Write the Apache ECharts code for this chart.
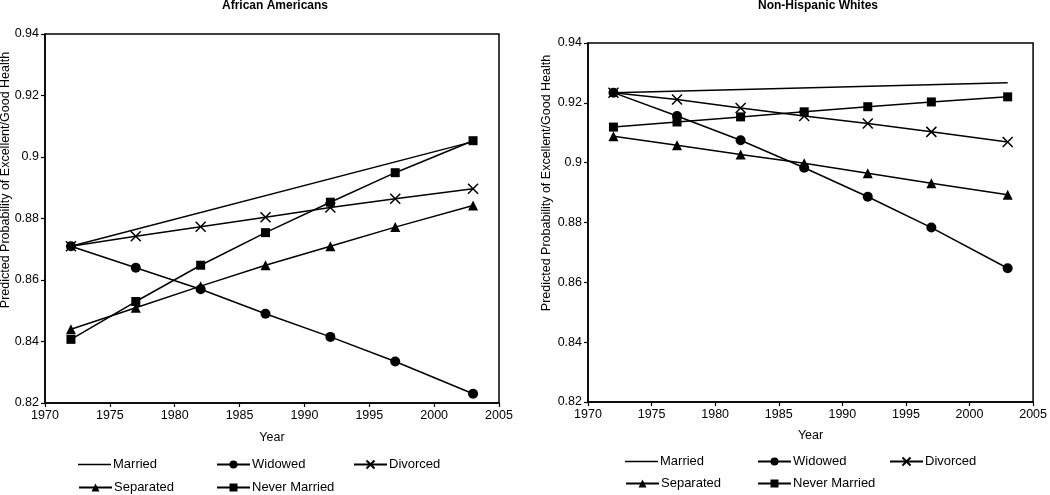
<!DOCTYPE html>
<html>
<head>
<meta charset="utf-8">
<script src="https://cdn.jsdelivr.net/npm/echarts@6/dist/echarts.min.js"></script>
<style>
html,body{margin:0;padding:0;background:#fff;}
#c{width:1050px;height:495px;}
</style>
</head>
<body>
<div id="c"></div>
<script>
// ---- data ----
const years = [1972, 1977, 1982, 1987, 1992, 1997, 2003];
const marriedYears = [1972, 2003];
const xTicks = [1970, 1975, 1980, 1985, 1990, 1995, 2000, 2005];
const yTicks = [0.82, 0.84, 0.86, 0.88, 0.9, 0.92, 0.94];
const seriesNames = ['Married', 'Widowed', 'Divorced', 'Separated', 'Never Married'];

// African Americans
const aaMarried   = [0.871, 0.905];
const aaWidowed   = [0.871, 0.864, 0.857, 0.849, 0.8415, 0.8335, 0.823];
const aaDivorced  = [0.871, 0.8742, 0.8773, 0.8804, 0.8836, 0.8864, 0.8897];
const aaSeparated = [0.844, 0.851, 0.858, 0.8648, 0.871, 0.8772, 0.8842];
const aaNever     = [0.8407, 0.853, 0.8648, 0.8754, 0.8853, 0.8949, 0.9053];

// Non-Hispanic Whites
const nhMarried   = [0.9234, 0.9267];
const nhWidowed   = [0.9234, 0.9156, 0.9075, 0.8983, 0.8886, 0.8783, 0.8647];
const nhDivorced  = [0.9234, 0.9211, 0.9183, 0.9156, 0.9131, 0.9103, 0.9069];
const nhSeparated = [0.9088, 0.9058, 0.9027, 0.8998, 0.8965, 0.8931, 0.8893];
const nhNever     = [0.9119, 0.9136, 0.9153, 0.917, 0.9187, 0.9203, 0.922];

const titles = ['African Americans', 'Non-Hispanic Whites'];
const yName = 'Predicted Probability of Excellent/Good Health';
const xName = 'Year';

// ---- build ----
const FONT = 'Liberation Sans, Arial, sans-serif';
const xSym = 'path://M0,0L10,10M10,0L0,10';
const symbols = ['none', 'circle', xSym, 'triangle', 'rect'];
const symSizes = [0, 10, 10, 10, 9];

function pairs(xs, ys) { return xs.map((x, i) => [x, ys[i]]); }

const panels = [
  [aaMarried, aaWidowed, aaDivorced, aaSeparated, aaNever],
  [nhMarried, nhWidowed, nhDivorced, nhSeparated, nhNever]
];

const series = [];
panels.forEach((vals, p) => {
  vals.forEach((v, k) => {
    const xs = k === 0 ? marriedYears : years;
    series.push({
      name: seriesNames[k],
      type: 'line',
      xAxisIndex: p,
      yAxisIndex: p,
      data: pairs(xs, v),
      symbol: symbols[k],
      symbolSize: symSizes[k],
      showSymbol: k !== 0,
      lineStyle: { color: '#000', width: 1.5 },
      itemStyle: k === 2
        ? { color: '#000', borderColor: '#000', borderWidth: 1.5 }
        : { color: '#000', borderColor: '#000', borderWidth: 0 },
      emphasis: { disabled: true },
      animation: false,
      z: 3
    });
  });
});

const grids = [
  { left: 45, top: 34, width: 454, height: 369 },
  { left: 588, top: 43, width: 446, height: 359 }
];

function xAxis(i) {
  return {
    type: 'value', gridIndex: i, min: xTicks[0], max: xTicks[xTicks.length - 1], interval: 5,
    name: xName, nameLocation: 'middle', nameGap: i === 0 ? 28 : 27,
    nameTextStyle: { color: '#000', fontSize: 12.5, fontFamily: FONT },
    axisLine: { show: true, lineStyle: { color: '#000', width: 1.5 } },
    axisTick: { show: true, inside: false, length: 4, lineStyle: { color: '#000', width: 1.2 } },
    axisLabel: { color: '#000', fontSize: 12.5, fontFamily: FONT, margin: 6,
      formatter: v => String(v) },
    splitLine: { show: false }
  };
}
function yAxis(i) {
  return {
    type: 'value', gridIndex: i, min: yTicks[0], max: yTicks[yTicks.length - 1], interval: 0.02,
    axisLine: { show: true, lineStyle: { color: '#000', width: 1.5 } },
    axisTick: { show: true, inside: false, length: 4, lineStyle: { color: '#000', width: 1.2 } },
    axisLabel: { color: '#000', fontSize: 12.5, fontFamily: FONT, margin: 6,
      formatter: v => String(Math.round(v * 100) / 100) },
    splitLine: { show: false }
  };
}

// legend positions: [left, centerY]
const legendPos = [
  [[78, 465], [216, 465], [353, 465], [78, 488], [216, 488]],
  [[625, 462], [757, 462], [889, 462], [625, 484], [757, 484]]
];
const legends = [];
legendPos.forEach((row, p) => {
  row.forEach((pos, k) => {
    const isLine = k === 0;
    const lg = {
      data: [isLine ? { name: seriesNames[k], icon: 'rect' } : seriesNames[k]],
      left: pos[0], top: pos[1] - 7,
      itemWidth: 33, itemHeight: isLine ? 1.5 : 10, itemGap: 0, padding: 0,
      textStyle: { color: '#000', fontSize: 13, fontFamily: FONT, padding: [0, 0, 0, -3] },
      selectedMode: false
    };
    if (isLine) lg.itemStyle = { color: '#000' };
    legends.push(lg);
  });
});

const graphics = [
  { type: 'text', left: 222, top: 0, style: { text: titles[0], fill: '#000', font: 'bold 12px ' + FONT, textAlign: 'center' } },
  { type: 'text', left: 758, top: 0, style: { text: titles[1], fill: '#000', font: 'bold 12px ' + FONT, textAlign: 'center' } },
  { type: 'text', x: 6, y: 180, rotation: Math.PI / 2,
    style: { text: yName, fill: '#000', font: '12.5px ' + FONT, align: 'center', verticalAlign: 'middle' } },
  { type: 'text', x: 547, y: 183, rotation: Math.PI / 2,
    style: { text: yName, fill: '#000', font: '12.5px ' + FONT, align: 'center', verticalAlign: 'middle' } }
];

const chart = echarts.init(document.getElementById('c'), null, { renderer: 'canvas' });
chart.setOption({
  animation: false,
  backgroundColor: '#fff',
  textStyle: { fontFamily: FONT },
  grid: grids.map(g => Object.assign({ show: true, borderColor: '#000', borderWidth: 1.5, backgroundColor: 'transparent' }, g)),
  xAxis: [xAxis(0), xAxis(1)],
  yAxis: [yAxis(0), yAxis(1)],
  legend: legends,
  graphic: graphics,
  series: series
});
</script>
</body>
</html>
